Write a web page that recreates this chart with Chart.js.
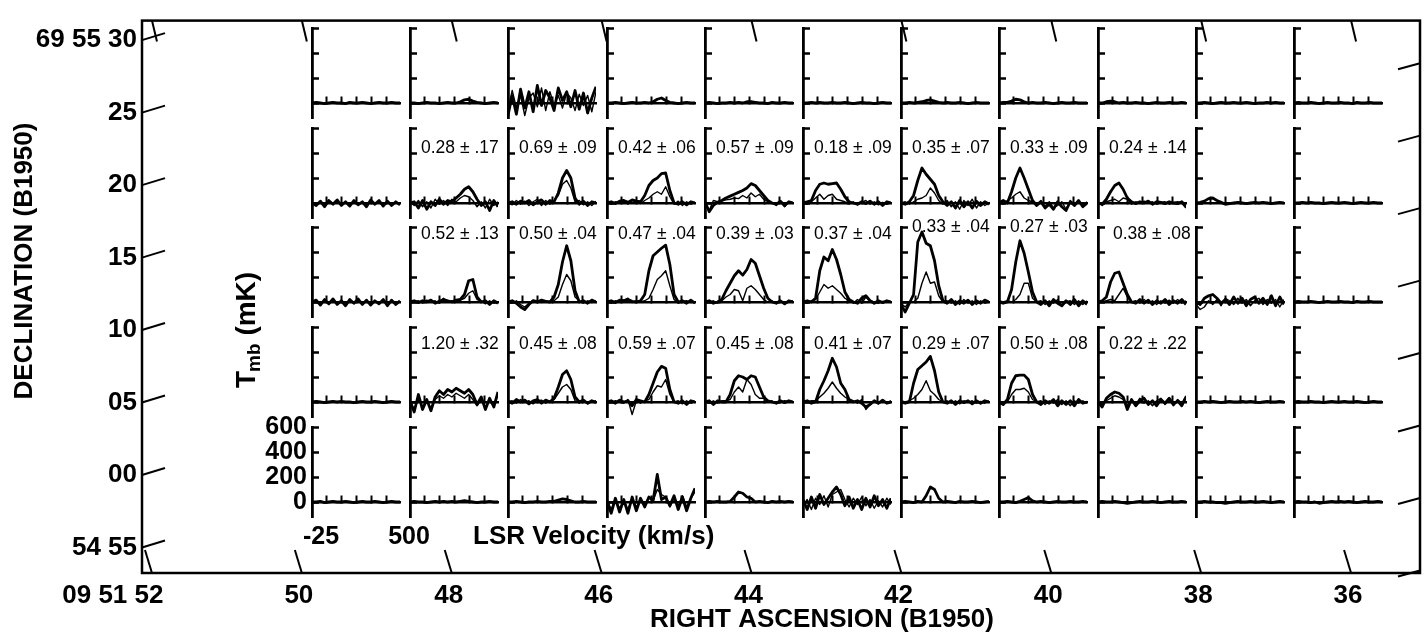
<!DOCTYPE html>
<html>
<head>
<meta charset="utf-8">
<script src="https://cdn.jsdelivr.net/npm/chart.js@4.4.1/dist/chart.umd.min.js"></script>
<style>
html,body{margin:0;padding:0;background:#fff;}
#wrap{position:relative;width:1424px;height:633px;overflow:hidden;background:#fff;}
#wrap canvas{position:absolute;}
</style>
</head>
<body>
<div id="wrap"><canvas id="frame" width="1424" height="633" style="left:0;top:0;width:1424px;height:633px"></canvas></div>
<script>
// ---------------- data ----------------
const velocity = [-25,0,25,50,75,100,125,150,175,200,225,250,275,300,325,350,375,400,425,450,475,500];
const velMinorTicks = [60,150,240,330,420];
const velTickLabels = [-25,500];
const tmbTicks = [0,200,400,600];
const raTicks = [52,50,48,46,44,42,40,38,36];
const raLabels = ['09 51 52' + '\u00a0'.repeat(10),'50','48','46','44','42','40','38','36'];
const decTicks = [30,25,20,15,10,5,0,-5];
const decLabels = ['69 55 30','25','20','15','10','05','00','54 55'];

// thick spectra (mK), one array per panel, columns left to right
const thickRow1 = [
  [0,5,0,-5,0,5,0,0,-5,5,0,0,5,0,-5,0,5,0,0,5,0,0],
  [0,0,-5,0,5,0,0,-5,0,5,0,0,10,25,30,15,5,0,-5,0,5,0],
  [-100,60,-90,110,-40,90,-70,140,-20,100,40,-60,120,20,90,-30,100,-50,80,-80,40,130],
  [0,0,5,0,-5,0,5,0,0,5,0,10,30,40,20,5,0,-5,0,5,0,0],
  [0,5,0,-5,0,0,5,0,5,0,10,10,5,0,0,-5,5,0,0,5,0,0],
  [0,0,5,0,5,0,0,5,0,0,5,0,-5,0,5,0,0,-5,0,5,0,0],
  [0,0,5,0,5,10,20,25,15,5,0,5,0,0,5,0,-5,0,5,0,0,0],
  [0,5,5,15,30,25,10,0,5,0,0,5,0,-5,0,5,0,0,5,0,0,0],
  [0,0,10,15,10,0,5,0,0,5,0,0,-5,0,5,0,0,5,0,0,5,0],
  [0,0,5,0,-5,0,5,0,0,5,0,0,5,0,-5,0,0,5,0,5,0,0],
  [0,5,0,0,5,0,-5,0,5,0,0,5,0,0,-5,5,0,0,5,0,0,0]
];
const thickRow2 = [
  [0,-20,15,-30,20,-10,25,-20,10,-25,20,-15,10,-30,25,-10,20,-25,15,-20,10,-15],
  [0,10,-40,20,-50,10,-20,30,-10,20,10,40,70,110,130,90,30,-20,10,-60,20,-30],
  [0,10,-10,15,0,20,-15,10,25,-10,20,10,80,200,260,200,40,-10,15,-20,10,0],
  [0,10,-5,15,20,5,25,15,10,60,140,180,200,235,240,100,0,-10,10,-15,10,0],
  [10,-70,-20,5,20,40,55,70,85,100,120,155,140,100,60,20,0,-10,15,-20,10,0],
  [0,10,20,100,150,160,150,155,160,110,50,10,0,-10,10,-5,15,-10,10,-20,10,0],
  [0,-10,10,60,180,280,230,190,150,60,10,-20,10,-40,20,-30,10,-40,15,-20,10,-10],
  [0,20,0,90,200,280,200,110,20,-20,10,-40,-10,-50,10,-30,-60,10,-20,20,-30,0],
  [0,-10,30,90,140,160,110,40,10,-5,10,0,15,-10,10,5,-5,10,0,-5,10,-30],
  [0,5,15,35,40,20,5,-10,-5,0,5,0,-5,0,5,0,5,0,-5,0,5,0],
  [0,0,5,0,5,0,0,-5,0,5,0,0,5,0,-5,0,5,0,0,5,0,0]
];
const thickRow3 = [
  [0,15,-25,20,-15,25,-20,10,-30,20,-10,25,-20,15,-25,10,-15,20,-30,15,-20,10],
  [0,10,-5,10,0,15,-10,5,20,10,0,15,20,60,170,180,40,0,10,-20,10,-10],
  [0,10,-10,-40,-60,-20,10,0,15,5,0,40,140,320,450,330,90,0,10,-10,15,0],
  [0,10,-5,15,10,20,5,0,10,60,250,370,400,430,455,300,60,0,10,-10,15,-10],
  [0,10,-10,0,20,90,150,210,250,215,260,340,310,210,110,30,0,-10,10,-15,10,0],
  [0,10,0,30,250,360,330,420,340,220,80,20,0,-10,30,50,10,-10,10,-5,10,0],
  [-20,-80,-10,60,480,560,470,450,330,130,10,-10,20,-20,10,-10,15,-20,10,-10,15,0],
  [0,-10,0,100,320,490,390,240,80,0,-20,10,-30,20,-10,-30,10,-20,20,-30,10,-20],
  [0,10,40,160,230,240,150,60,0,-10,20,-10,15,-20,10,-10,20,-20,10,-10,20,-20],
  [0,-20,30,50,60,30,-10,20,-20,40,-10,30,-30,20,40,-10,30,-20,50,-30,40,-20],
  [0,5,0,0,5,0,-5,0,5,0,0,5,0,0,-5,5,0,0,5,0,0,0]
];
const thickRow4 = [
  [0,5,0,-5,0,5,0,5,0,0,-5,0,5,0,0,5,0,-5,0,5,0,0],
  [0,-80,60,-60,20,-70,40,90,60,100,80,110,90,70,100,60,-20,40,-60,30,-40,80],
  [10,-10,20,0,15,-15,10,20,-10,15,0,30,120,220,250,180,40,0,15,-10,10,-5],
  [0,10,-10,15,0,10,-30,20,10,0,60,150,240,285,270,100,0,-10,10,-20,10,0],
  [0,10,-20,10,0,0,60,170,210,200,180,210,200,120,40,10,0,-10,10,-5,10,0],
  [0,10,-10,0,100,170,250,350,280,150,100,20,0,10,-10,-40,-20,10,-10,15,-10,0],
  [0,-10,0,150,260,290,320,365,250,80,0,-10,10,-20,10,-5,10,-15,10,-10,10,0],
  [0,-20,20,150,210,215,215,180,60,0,-20,10,-10,20,-30,10,-20,10,-30,20,-10,0],
  [0,-40,30,60,80,70,40,-60,20,-30,10,30,-20,10,-30,20,-10,30,-20,10,-30,40],
  [0,0,5,0,5,0,-5,0,5,0,0,5,0,5,0,-5,0,5,0,0,5,0],
  [0,5,0,0,5,0,0,-5,0,5,0,0,5,0,0,5,0,-5,0,5,0,0]
];
const thickRow5 = [
  [0,0,5,-5,0,5,0,0,5,0,-5,0,5,0,0,5,0,-5,0,5,0,0],
  [0,5,0,0,-5,0,5,0,5,0,5,0,5,10,5,0,-5,0,0,5,0,0],
  [0,0,5,0,-5,0,0,5,0,0,5,5,15,25,20,10,0,0,5,0,0,0],
  [0,-90,30,-80,20,-90,40,-70,30,-40,40,10,220,20,40,-30,50,-60,40,-70,30,110],
  [0,5,0,5,0,0,5,40,80,70,40,30,0,5,0,-5,5,0,5,0,5,0],
  [20,-60,40,-50,60,-20,30,80,120,60,-30,40,-50,20,-60,30,-40,50,-30,20,-50,30],
  [0,5,0,-5,5,0,50,120,100,30,0,5,0,-5,5,0,0,5,0,-5,0,5],
  [0,0,5,0,-5,5,20,35,10,0,5,0,-5,0,5,0,0,5,0,0,5,0],
  [0,5,0,0,5,0,-5,-10,-5,0,5,0,0,5,0,-5,0,5,0,0,5,0],
  [0,0,5,0,0,-5,-5,-10,-5,0,5,0,0,5,0,0,5,0,-5,0,5,0],
  [0,5,0,0,-5,0,-10,-5,0,5,0,5,0,5,0,-5,0,5,0,0,5,0]
];

// thin spectra (mK); null = none drawn
const thinRow1 = [null,null,
  [-60,100,-40,60,-100,40,80,-30,120,-60,90,-20,60,-40,80,40,-60,70,-20,60,-70,90],
  null,null,null,null,null,null,null,null];
const thinRow2 = [null,
  [10,-20,20,-30,10,-40,30,-10,20,-20,30,10,40,60,50,20,-30,10,-40,30,-20,10],
  [10,-15,20,-10,15,-20,10,30,-20,20,-10,20,60,150,180,120,10,20,-15,10,-20,15],
  [10,-10,10,0,15,-10,20,10,-5,20,40,70,90,70,130,50,-10,15,-20,10,-10,5],
  [0,-60,20,10,15,25,30,40,35,60,40,80,50,70,30,10,0,-20,10,-30,10,0],
  [0,-10,10,40,70,30,60,70,30,20,10,-10,10,-15,5,20,-10,10,-15,5,-10,0],
  [0,10,-10,10,30,40,60,120,80,20,-10,20,-30,10,-50,20,-20,30,-40,10,-20,0],
  [10,-10,20,40,70,90,40,20,10,-10,20,-30,10,-40,-20,10,-50,20,-10,10,-20,10],
  [10,-20,10,20,30,10,40,30,-10,10,-5,15,0,10,-10,5,10,-10,5,10,0,-40],
  null,null];
const thinRow3 = [null,
  [10,0,10,-10,15,0,10,-10,30,5,10,0,15,30,70,90,20,10,-15,10,-10,0],
  [0,-10,10,-20,-40,-10,15,10,-5,10,0,10,40,140,220,170,40,10,-10,10,-5,10],
  [10,-10,10,0,15,30,-5,10,0,10,30,100,180,210,250,130,20,-10,5,10,-5,0],
  [10,-5,10,-10,10,40,60,100,90,10,110,130,100,60,20,0,10,-10,5,-15,0,10],
  [0,-10,10,20,80,140,110,130,100,70,30,10,-10,20,-10,40,10,0,-10,5,0,0],
  [-10,-40,0,0,30,150,240,150,160,50,0,10,-10,10,-20,20,-10,10,-20,10,-10,0],
  [10,0,10,0,20,60,150,150,30,0,10,-20,10,-10,20,-30,0,10,-20,10,-20,10],
  [10,0,10,20,10,60,110,40,0,10,-10,20,-10,10,-20,10,-10,15,-10,20,-10,10],
  [-20,-60,-40,10,-20,20,-30,30,10,-20,30,-10,20,-30,10,30,-20,20,-10,20,-40,20],
  null];
const thinRow4 = [null,
  [20,-60,30,-40,10,-50,20,50,30,60,40,70,50,30,60,20,-30,20,-40,10,-30,60],
  [0,10,-10,20,-5,10,-15,10,15,-10,10,20,70,120,140,100,10,-10,10,-15,5,10],
  [10,-5,10,0,-10,20,-100,10,-10,10,20,80,130,120,180,60,0,10,-15,10,-10,5],
  [10,-10,10,-10,10,10,20,80,120,80,180,140,60,30,30,0,10,-10,-5,10,0,0],
  [10,0,10,10,40,70,110,160,110,70,40,20,10,-10,20,-60,-20,10,-15,10,-5,10],
  [10,0,10,30,60,100,170,90,60,20,0,10,-10,10,-15,10,-5,10,-10,5,-10,10],
  [10,-10,0,60,100,100,110,80,20,0,10,-20,10,-10,20,-20,10,-30,10,-10,10,-10],
  [10,-20,10,30,50,40,20,-30,10,-20,30,-10,10,-30,10,30,-20,20,-30,20,-10,50],
  null,null];
const thinRow5 = [null,null,null,
  [20,-60,20,-50,10,-60,30,-40,20,-20,40,10,100,60,40,-40,30,-30,50,-40,30,80],
  null,
  [-30,20,-60,30,-20,50,-40,60,80,100,20,-40,30,-20,40,-30,20,-50,10,-40,30,-20],
  null,null,null,null,null];

// integrated-intensity ratio labels
const labelsRow1 = ['','','','','','','','','','',''];
const labelsRow2 = ['','0.28 \u00b1 .17','0.69 \u00b1 .09','0.42 \u00b1 .06','0.57 \u00b1 .09','0.18 \u00b1 .09','0.35 \u00b1 .07','0.33 \u00b1 .09','0.24 \u00b1 .14','',''];
const labelsRow3 = ['','0.52 \u00b1 .13','0.50 \u00b1 .04','0.47 \u00b1 .04','0.39 \u00b1 .03','0.37 \u00b1 .04','0.33 \u00b1 .04','0.27 \u00b1 .03','0.38 \u00b1 .08','',''];
const labelsRow4 = ['','1.20 \u00b1 .32','0.45 \u00b1 .08','0.59 \u00b1 .07','0.45 \u00b1 .08','0.41 \u00b1 .07','0.29 \u00b1 .07','0.50 \u00b1 .08','0.22 \u00b1 .22','',''];
const labelsRow5 = ['','','','','','','','','','',''];

// ---------------- layout / style ----------------
const FONT = '"Liberation Sans", Arial, Helvetica, sans-serif';
const COL0 = 312, COLSTEP = 98.2, ROW0 = 28, ROWSTEP = 99.7, PW = 88, PH = 90;
const labelDy = [0, 20, 7, 17, 0];
const labelDyOverride = {'2-6': 0, '2-7': 0};
const labelDxOverride = {'2-8': 15};

const thickRows = [thickRow1, thickRow2, thickRow3, thickRow4, thickRow5];
const thinRows = [thinRow1, thinRow2, thinRow3, thinRow4, thinRow5];
const labelRows = [labelsRow1, labelsRow2, labelsRow3, labelsRow4, labelsRow5];

const wrap = document.getElementById('wrap');

// outer sky-coordinate frame
const frameDecor = {
  id: 'frameDecor',
  afterDraw(chart) {
    const {ctx, chartArea: a, scales} = chart;
    const x = scales.x, y = scales.y;
    const seg = (x1, y1, x2, y2) => { ctx.beginPath(); ctx.moveTo(x1, y1); ctx.lineTo(x2, y2); ctx.stroke(); };
    ctx.save();
    ctx.strokeStyle = '#000';
    ctx.lineWidth = 2.5;
    ctx.strokeRect(a.left, a.top, a.right - a.left, a.bottom - a.top);
    ctx.lineWidth = 2;
    raTicks.forEach(v => {
      const p = x.getPixelForValue(v);
      seg(p + 3, a.bottom, p - 4, a.bottom - 23);
      seg(p + 3, a.top, p + 8, a.top + 21);
    });
    decTicks.forEach(d => {
      const q = y.getPixelForValue(d);
      seg(a.left, q, a.left + 23, q - 7);
      seg(a.right - 22, q + 29, a.right, q + 23);
    });
    ctx.fillStyle = '#000';
    ctx.textBaseline = 'middle';
    ctx.font = 'bold 26px ' + FONT;
    ctx.textAlign = 'center';
    ctx.fillText('RIGHT ASCENSION (B1950)', 822, 620);
    ctx.save();
    ctx.translate(25, 261);
    ctx.rotate(-Math.PI / 2);
    ctx.fillText('DECLINATION (B1950)', 0, 0);
    ctx.restore();
    ctx.textAlign = 'left';
    ctx.fillText('LSR Velocity (km/s)', 473, 537);
    // T_mb (mK)
    ctx.save();
    ctx.translate(247, 388);
    ctx.rotate(-Math.PI / 2);
    ctx.font = 'bold 28px ' + FONT;
    ctx.fillText('T', 0, 0);
    let w = ctx.measureText('T').width;
    ctx.font = 'bold 19px ' + FONT;
    ctx.fillText('mb', w - 1, 8);
    w += ctx.measureText('mb').width - 1;
    ctx.font = 'bold 28px ' + FONT;
    ctx.fillText(' (mK)', w, 0);
    ctx.restore();
    ctx.restore();
  }
};

new Chart(document.getElementById('frame'), {
  type: 'scatter',
  data: { datasets: [{ data: [] }] },
  options: {
    responsive: false, animation: false, devicePixelRatio: 1, events: [],
    layout: { padding: { left: 0, top: 10, right: 4, bottom: 0 } },
    plugins: { legend: { display: false }, tooltip: { enabled: false } },
    scales: {
      x: {
        type: 'linear', reverse: true, min: 35.04, max: 52.093,
        afterBuildTicks: s => { s.ticks = raTicks.map(v => ({ value: v })); },
        ticks: { callback: (v, i) => raLabels[i], color: '#000', font: { family: FONT, size: 26, weight: 'bold', lineHeight: 1.2 }, padding: 7, maxRotation: 0, minRotation: 0, autoSkip: false },
        grid: { display: false, drawTicks: false },
        border: { display: false },
        afterFit: s => { s.height = 60; }
      },
      y: {
        type: 'linear', min: -6.76, max: 31.35,
        afterBuildTicks: s => { s.ticks = decTicks.map(v => ({ value: v })); },
        ticks: { callback: (v, i) => decLabels[i], color: '#000', font: { family: FONT, size: 26, weight: 'bold', lineHeight: 1.2 }, padding: 5, autoSkip: false },
        grid: { display: false, drawTicks: false },
        border: { display: false },
        afterFit: s => { s.width = 142; }
      }
    }
  },
  plugins: [frameDecor]
});

// per-panel ratio label
const panelDecor = {
  id: 'panelDecor',
  afterDatasetsDraw(chart, args, opts) {
    if (!opts || !opts.text) return;
    const {ctx, chartArea} = chart;
    ctx.save();
    ctx.font = '17.5px ' + FONT;
    ctx.fillStyle = '#000';
    ctx.textBaseline = 'middle';
    ctx.textAlign = 'left';
    ctx.fillText(opts.text, chartArea.left + opts.dx, chartArea.top + opts.dy);
    ctx.restore();
  }
};

function series(values, width) {
  return {
    data: velocity.map((v, i) => ({ x: v, y: values[i] })),
    showLine: true, borderColor: '#000', borderWidth: width,
    pointRadius: 0, tension: 0, borderJoinStyle: 'round', fill: false
  };
}

function makePanel(r, c) {
  const special = (r === 4 && c === 0);
  // special panel: axis boxes take the margins (labels are clipped to their box)
  const axisW = special ? 80 : 0, axisH = special ? 40 : 0;
  const padL = special ? 0 : 6, padT = special ? 30 : 16, padR = special ? 40 : 12, padB = special ? 0 : 6;
  const w = padL + axisW + PW + padR, h = padT + PH + axisH + padB;
  const cv = document.createElement('canvas');
  cv.width = w; cv.height = h;
  cv.style.width = w + 'px'; cv.style.height = h + 'px';
  cv.style.left = (Math.round(COL0 + c * COLSTEP) - padL - axisW) + 'px';
  cv.style.top = (Math.round(ROW0 + r * ROWSTEP) - padT) + 'px';
  wrap.appendChild(cv);
  const datasets = [];
  const thin = thinRows[r][c];
  if (thin) datasets.push(series(thin, 1.4));
  datasets.push(series(thickRows[r][c], 2.8));
  const key = r + '-' + c;
  const scales = {
    x: {
      type: 'linear', min: -25, max: 500, position: { y: 0 },
      afterBuildTicks: s => { s.ticks = velMinorTicks.map(v => ({ value: v })); },
      ticks: { display: false },
      grid: { display: true, drawOnChartArea: false, drawTicks: true, tickLength: -8, color: '#000', tickColor: '#000', tickWidth: 2 },
      border: { display: true, color: '#000', width: 2.5 },
      afterFit: s => { s.height = 0; }
    },
    y: {
      type: 'linear', min: -120, max: 600, position: 'left',
      afterBuildTicks: s => { s.ticks = tmbTicks.map(v => ({ value: v })); },
      ticks: { display: special, autoSkip: false, padding: 12, color: '#000', font: { family: FONT, size: 25, weight: 'bold', lineHeight: 1 } },
      grid: { display: true, drawOnChartArea: false, drawTicks: true, tickLength: -7, color: '#000', tickColor: '#000', tickWidth: 2.5 },
      border: { display: true, color: '#000', width: 2.8 },
      afterFit: s => { s.width = axisW; }
    }
  };
  if (special) {
    scales.x2 = {
      type: 'linear', min: -25, max: 500, position: 'bottom',
      afterBuildTicks: s => { s.ticks = velTickLabels.map(v => ({ value: v })); },
      ticks: { display: true, color: '#000', font: { family: FONT, size: 25, weight: 'bold', lineHeight: 1.2 }, labelOffset: 9, padding: 5, maxRotation: 0, minRotation: 0, autoSkip: false },
      grid: { display: false, drawTicks: false },
      border: { display: false },
      afterFit: s => { s.height = axisH; }
    };
  }
  new Chart(cv, {
    type: 'scatter',
    data: { datasets },
    options: {
      responsive: false, animation: false, devicePixelRatio: 1, events: [],
      layout: { padding: { left: padL, top: padT, right: padR, bottom: padB } },
      plugins: {
        legend: { display: false }, tooltip: { enabled: false },
        panelDecor: {
          text: labelRows[r][c],
          dx: (key in labelDxOverride) ? labelDxOverride[key] : 11,
          dy: (key in labelDyOverride) ? labelDyOverride[key] : labelDy[r]
        }
      },
      scales
    },
    plugins: [panelDecor]
  });
}

for (let r = 0; r < 5; r++) {
  for (let c = 0; c < 11; c++) makePanel(r, c);
}
</script>
</body>
</html>
